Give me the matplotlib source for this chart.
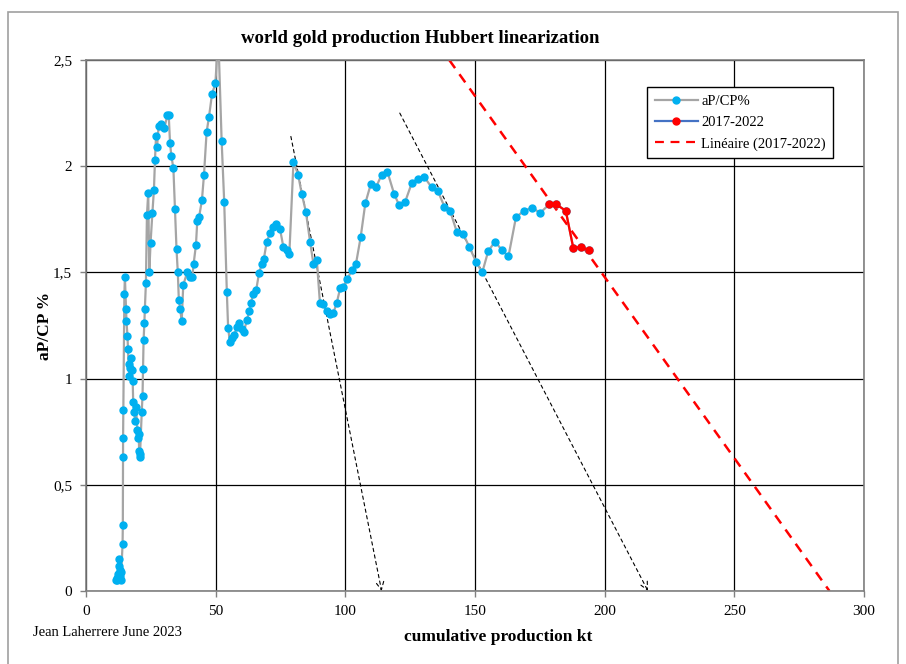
import matplotlib.pyplot as plt
import numpy as np
from matplotlib.lines import Line2D
from matplotlib.patches import Rectangle

plt.rcParams["font.family"] = ["Liberation Serif", "DejaVu Serif"]

# aP/CP % versus cumulative production (kt)
cum_kt = [11.6, 11.9, 12.1, 12.3, 12.5, 12.6, 12.8, 13.0, 13.2, 13.4, 13.6,
          14.1, 14.2, 14.27, 14.3, 14.4, 14.8, 15.0,
          15.4, 15.6, 16.0, 16.2, 16.4, 16.7, 17.0, 17.2, 17.6, 18.0,
          18.2, 18.6, 18.9, 19.3, 19.8, 20.1, 20.3, 20.5, 20.65, 20.8,
          21.5, 21.8, 22.0, 22.2, 22.5, 22.7, 23.1, 23.5, 24.0, 24.4, 24.9,
          25.6, 26.2, 26.6, 27.0, 27.4, 28.0, 28.9, 30.2, 31.4, 31.9, 32.4,
          32.9, 33.7, 34.3, 34.9, 35.4, 35.8, 36.3, 36.9, 37.5, 39.0, 40.1,
          41.0, 41.5, 42.4, 42.9, 43.6, 44.7, 45.5, 46.5, 47.4, 48.6, 49.9,
          51.0, 52.3, 53.3, 54.3, 54.8, 55.5, 56.2, 57.1, 58.3, 59.1, 60.0,
          60.9, 62.0, 63.0, 63.6, 64.5, 65.6, 66.7, 67.8, 68.6, 69.7, 71.0,
          72.0, 73.4, 74.8, 76.1, 77.4, 78.4, 80.0, 81.8, 83.2, 84.8, 86.4,
          87.7, 89.0, 90.2, 91.3, 92.8, 94.1, 95.4, 96.7, 98.0, 99.2, 100.8,
          102.5, 104.1, 105.9, 107.7, 109.8, 111.8, 114.0, 116.2, 118.8,
          120.8, 123.0, 125.6, 127.9, 130.4, 133.3, 135.6, 138.2, 140.4,
          143.0, 145.5, 147.8, 150.4, 152.8, 155.1, 157.7, 160.4, 162.9,
          165.8, 168.9, 172.0, 175.1,
          178.6, 181.4, 185.0, 187.9, 190.9, 194.0]
ap_cp = [0.05, 0.05, 0.06, 0.06, 0.08, 0.12, 0.15, 0.10, 0.07, 0.05, 0.09,
         0.22, 0.31, 0.63, 0.72, 0.85, 1.40, 1.48,
         1.33, 1.27, 1.20, 1.14, 1.07, 1.01, 1.05, 1.095, 1.04, 0.99,
         0.89, 0.845, 0.80, 0.865, 0.76, 0.72, 0.74, 0.66, 0.645, 0.63,
         0.845, 0.92, 1.045, 1.18, 1.26, 1.33, 1.45, 1.77, 1.875, 1.50, 1.64,
         1.78, 1.89, 2.03, 2.14, 2.09, 2.19, 2.20, 2.18, 2.24, 2.24, 2.11,
         2.05, 1.99, 1.80, 1.61, 1.50, 1.37, 1.33, 1.27, 1.44, 1.50, 1.48,
         1.48, 1.54, 1.63, 1.74, 1.76, 1.84, 1.96, 2.16, 2.23, 2.34, 2.39,
         2.62, 2.12, 1.83, 1.41, 1.24, 1.17, 1.19, 1.205, 1.245, 1.26, 1.235,
         1.22, 1.275, 1.32, 1.355, 1.40, 1.415, 1.495, 1.54, 1.565, 1.645, 1.685,
         1.715, 1.73, 1.705, 1.62, 1.605, 1.585, 2.02, 1.96, 1.87, 1.785, 1.645,
         1.54, 1.56, 1.357, 1.35, 1.32, 1.305, 1.31, 1.357, 1.425, 1.43, 1.47,
         1.51, 1.54, 1.665, 1.825, 1.915, 1.90, 1.96, 1.975, 1.87,
         1.815, 1.83, 1.92, 1.94, 1.95, 1.90, 1.885, 1.81, 1.79,
         1.69, 1.68, 1.62, 1.55, 1.50, 1.60, 1.645, 1.605, 1.575,
         1.76, 1.79, 1.805, 1.78,
         1.82, 1.82, 1.79, 1.615, 1.62, 1.605]

# last six points = 2017-2022
n_recent = 6
recent_x = cum_kt[-n_recent:]
recent_y = ap_cp[-n_recent:]

# hand-drawn dashed arrows (start -> end)
arrow1 = [(79.0, 2.14), (114.0, 0.0)]
arrow2 = [(121.0, 2.25), (216.7, 0.0)]

fig = plt.figure(figsize=(9.06, 6.64), dpi=100)
ax = fig.add_axes([86 / 906, 73 / 664, 778 / 906, 531 / 664])

ax.plot(cum_kt, ap_cp, color="#A5A5A5", lw=1.6, marker="o", ms=5,
        mfc="#00B0F0", mec="#00B0F0", zorder=3)
ax.plot(recent_x, recent_y, color="red", lw=1.6, marker="o", ms=5,
        mfc="red", mec="red", zorder=4)

# linear trend of 2017-2022
a, b = np.polyfit(recent_x, recent_y, 1)
x_top = (2.5 - b) / a
x_bot = -b / a
ax.plot([x_top, x_bot], [a * x_top + b, a * x_bot + b], color="red",
        lw=1.8, ls=(0, (4, 3)), zorder=2)

for (x0, y0), (x1, y1) in [arrow1, arrow2]:
    ax.annotate("", xy=(x1, y1), xytext=(x0, y0),
                arrowprops=dict(arrowstyle="->", color="black", lw=0.8,
                                ls=(0, (3, 3)), shrinkA=0, shrinkB=0,
                                mutation_scale=14), zorder=2)

ax.set_xlim(0, 300)
ax.set_ylim(0, 2.5)
ax.set_xticks(np.arange(0, 301, 50))
ax.set_yticks([0, 0.5, 1, 1.5, 2, 2.5])
ax.set_yticklabels(["0", "0,5", "1", "1,5", "2", "2,5"])
ax.tick_params(labelsize=11, direction="out", length=4, width=1,
               color="#808080", pad=6)
ax.grid(True, color="black", lw=0.9)
ax.set_axisbelow(True)
for s in ax.spines.values():
    s.set_color("#808080")
    s.set_linewidth(1.2)

ax.set_title("world gold production Hubbert linearization", fontsize=13.5,
             fontweight="bold", x=0.43, pad=12)
ax.set_ylabel("aP/CP %", fontsize=12.5, fontweight="bold", labelpad=0)
ax.set_xlabel("cumulative production kt", fontsize=12.5, fontweight="bold",
              labelpad=8, x=0.53)
fig.text(33 / 906, 1 - 633 / 664, "Jean Laherrere June 2023", fontsize=10.5,
         va="center")

handles = [
    Line2D([], [], color="#A5A5A5", lw=1.6, marker="o", ms=5,
           mfc="#00B0F0", mec="#00B0F0"),
    Line2D([], [], color="#4472C4", lw=1.6, marker="o", ms=5,
           mfc="red", mec="red"),
    Line2D([], [], color="red", lw=1.6, ls=(0, (4, 3))),
]
leg = ax.legend(handles, ["aP/CP%", "2017-2022", "Linéaire (2017-2022)"],
                loc="upper left", bbox_to_anchor=(0.712, 0.962), fontsize=10.5,
                frameon=True, fancybox=False, edgecolor="black",
                framealpha=1, borderpad=0.5, handlelength=3.0,
                labelspacing=0.55, handletextpad=0.2)
leg.get_frame().set_linewidth(1.0)

fig.patches.append(Rectangle((8 / 906, -0.01), 890 / 906, 1 - 12 / 664 + 0.01,
                             transform=fig.transFigure, fill=False,
                             edgecolor="#A0A0A0", lw=1.2))

fig.savefig("out.png", dpi=100)
